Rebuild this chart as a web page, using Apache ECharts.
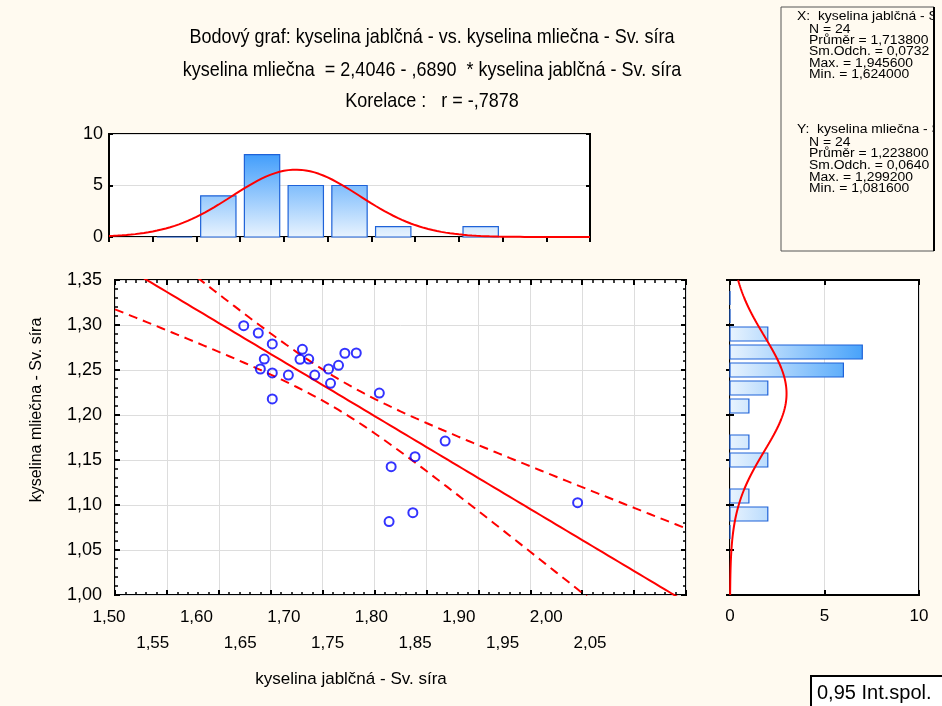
<!DOCTYPE html>
<html><head><meta charset="utf-8">
<script src="https://cdn.jsdelivr.net/npm/echarts@6/dist/echarts.min.js"></script>
<style>html,body{margin:0;padding:0;background:#FFFAF0}#c{width:942px;height:706px}</style>
</head><body><div id="c"></div><script>
// ---- data ----
const xJablcna = [1.624,1.638,1.6515,1.6438,1.640,1.6515,1.6515,1.667,1.6805,1.6782,1.6866,1.6924,1.7057,1.7076,1.7153,1.7214,1.7324,1.7546,1.766,1.764,1.789,1.7869,1.818,1.9456];
const yMliecna = [1.2992,1.2911,1.279,1.2622,1.2511,1.2467,1.2178,1.2444,1.273,1.2619,1.2622,1.2444,1.2511,1.2352,1.2552,1.2686,1.2689,1.2244,1.1426,1.0816,1.1537,1.0915,1.171,1.1026];
const topBinStart = [1.55,1.60,1.65,1.70,1.75,1.80,1.90];
const topCounts   = [0,4,8,5,5,1,1];
const topBinWidth = 0.05;
const rightBinStart = [1.06,1.08,1.10,1.14,1.16,1.20,1.22,1.24,1.26,1.28,1.30,1.32];
const rightCounts   = [0,2,1,2,1,1,2,6,7,2,0,0];
const rightBinWidth = 0.02;
const regIntercept = 2.4046, regSlope = -0.6890, corrR = -0.7878;
const nObs = 24, meanX = 1.7138, sdX = 0.0732, meanY = 1.2238, sdY = 0.0640;
const tCrit = 2.0739; // t(0.975, 22)
const statsX = ['N = 24','Průměr = 1,713800','Sm.Odch. = 0,0732','Max. = 1,945600','Min. = 1,624000'];
const statsY = ['N = 24','Průměr = 1,223800','Sm.Odch. = 0,0640','Max. = 1,299200','Min. = 1,081600'];
const titleLines = ['Bodový graf: kyselina jablčná - vs. kyselina mliečna - Sv. síra',
  'kyselina mliečna  = 2,4046 - ,6890  * kyselina jablčná - Sv. síra',
  'Korelace :   r = -,7878'];
const xName = 'kyselina jablčná - Sv. síra';
const yName = 'kyselina mliečna - Sv. síra';

// ---- derived fit curves ----
const FF = '"Liberation Sans", Arial, sans-serif';
const fmt = v => v.toFixed(2).replace('.', ',');
const sRes = sdY * Math.sqrt((1 - corrR*corrR) * (nObs - 1) / (nObs - 2));
const sxx = sdX * sdX * (nObs - 1);
const regLine = [], ciUp = [], ciLo = [];
for (let i = 0; i <= 110; i++) {
  const x = 1.5 + i * 0.005;
  const yh = regIntercept + regSlope * x;
  const h = tCrit * sRes * Math.sqrt(1/nObs + (x - meanX)*(x - meanX)/sxx);
  regLine.push([x, yh]); ciUp.push([x, yh + h]); ciLo.push([x, yh - h]);
}
const pdf = (v, m, s) => Math.exp(-0.5*((v-m)/s)**2) / (s*Math.sqrt(2*Math.PI));
const topNorm = [], rightNorm = [];
for (let i = 0; i <= 110; i++) { const x = 1.5 + i*0.005; topNorm.push([x, nObs*topBinWidth*pdf(x, meanX, sdX)]); }
for (let i = 0; i <= 140; i++) { const y = 1.0 + i*0.0025; rightNorm.push([nObs*rightBinWidth*pdf(y, meanY, sdY), y]); }

const topGrad = new echarts.graphic.LinearGradient(0, 237, 0, 145, [{offset:0,color:'#E8F3FE'},{offset:1,color:'#2F94FB'}], true);
const rightGrad = new echarts.graphic.LinearGradient(730, 0, 870, 0, [{offset:0,color:'#E8F3FE'},{offset:1,color:'#3F9EFA'}], true);
const barStroke = '#1E62D8';

const chart = echarts.init(document.getElementById('c'), null, {renderer:'canvas'});
const gridStyle = {show:true, backgroundColor:'#fff', borderColor:'#000', borderWidth:2, containLabel:false};
const tickIn = (len) => ({show:true, inside:true, length:len, lineStyle:{color:'#000', width:2}});
const minorIn = {show:true, splitNumber:5, length:3, lineStyle:{color:'#000', width:1.5}};
const split = {show:true, lineStyle:{color:'#DDDDDD', width:1}};
const lbl = (extra) => Object.assign({color:'#000', fontSize:17, fontFamily:FF}, extra);

const option = {
  backgroundColor:'#FFFAF0',
  animation:false,
  grid:[
    Object.assign({left:115, top:280, width:571, height:315}, gridStyle),
    Object.assign({left:109, top:134, width:481, height:103}, gridStyle),
    Object.assign({left:730, top:280, width:189, height:315}, gridStyle),
    {left:109, top:600, width:481, height:1, show:false}
  ],
  xAxis:[
    {gridIndex:0, type:'value', min:1.5, max:2.05, interval:0.05, position:'bottom', axisLine:{show:false}, axisTick:tickIn(5), minorTick:Object.assign({}, minorIn), axisLabel:{show:false}, splitLine:split},
    {gridIndex:0, type:'value', min:1.5, max:2.05, interval:0.05, position:'top', axisLine:{show:false}, axisTick:tickIn(5), minorTick:Object.assign({}, minorIn), axisLabel:{show:false}, splitLine:{show:false}},
    {gridIndex:1, type:'value', min:1.5, max:2.05, interval:0.05, position:'top', axisLine:{show:false}, axisTick:tickIn(5), axisLabel:{show:false}, splitLine:{show:false}},
    {gridIndex:2, type:'value', min:0, max:10, interval:5, position:'bottom', axisLine:{show:false}, axisTick:tickIn(5), axisLabel:lbl({margin:13}), splitLine:split},
    {gridIndex:2, type:'value', min:0, max:10, interval:5, position:'top', axisLine:{show:false}, axisTick:tickIn(5), axisLabel:{show:false}, splitLine:{show:false}},
    {gridIndex:3, type:'value', min:1.5, max:2.05, interval:0.05, position:'bottom', axisLine:{show:false}, axisTick:{show:false}, splitLine:{show:false},
      axisLabel:lbl({margin:8, formatter:v => (Math.round(v*100) % 10 === 0) ? fmt(v) : ''})},
    {gridIndex:3, type:'value', min:1.5, max:2.05, interval:0.05, position:'bottom', offset:26, axisLine:{show:false}, axisTick:{show:false}, splitLine:{show:false},
      axisLabel:lbl({margin:8, formatter:v => (Math.round(v*100) % 10 === 5) ? fmt(v) : ''})}
  ],
  yAxis:[
    {gridIndex:0, type:'value', min:1.0, max:1.35, interval:0.05, position:'left', axisLine:{show:false}, axisTick:tickIn(5), minorTick:Object.assign({}, minorIn), axisLabel:lbl({margin:13, fontSize:18, formatter:fmt}), splitLine:split},
    {gridIndex:0, type:'value', min:1.0, max:1.35, interval:0.05, position:'right', axisLine:{show:false}, axisTick:tickIn(5), minorTick:Object.assign({}, minorIn), axisLabel:{show:false}, splitLine:{show:false}},
    {gridIndex:1, type:'value', min:0, max:10, interval:5, position:'left', axisLine:{show:false}, axisTick:tickIn(4), axisLabel:lbl({margin:6, fontSize:18}), splitLine:split},
    {gridIndex:1, type:'value', min:0, max:10, interval:5, position:'right', axisLine:{show:false}, axisTick:tickIn(4), axisLabel:{show:false}, splitLine:{show:false}},
    {gridIndex:2, type:'value', min:1.0, max:1.35, interval:0.05, position:'left', axisLine:{show:false}, axisTick:tickIn(4), axisLabel:{show:false}, splitLine:{show:false}},
    {gridIndex:2, type:'value', min:1.0, max:1.35, interval:0.05, position:'right', axisLine:{show:false}, axisTick:tickIn(4), axisLabel:{show:false}, splitLine:{show:false}},
    {gridIndex:3, type:'value', show:false, min:0, max:1}
  ],
  series:[
    {type:'line', xAxisIndex:0, yAxisIndex:0, data:ciUp, showSymbol:false, clip:true, lineStyle:{color:'#FF0000', width:2, type:[9,6]}, z:3},
    {type:'line', xAxisIndex:0, yAxisIndex:0, data:ciLo, showSymbol:false, clip:true, lineStyle:{color:'#FF0000', width:2, type:[9,6]}, z:3},
    {type:'line', xAxisIndex:0, yAxisIndex:0, data:regLine, showSymbol:false, clip:true, lineStyle:{color:'#FF0000', width:2}, z:3},
    {type:'scatter', xAxisIndex:0, yAxisIndex:0, data:xJablcna.map((x,i)=>[x, yMliecna[i]]), symbol:'circle', symbolSize:9,
      itemStyle:{color:'rgba(0,0,0,0)', borderColor:'#0000FF', borderWidth:2}, z:5},
    {type:'custom', xAxisIndex:2, yAxisIndex:2, data:topBinStart.map((s,i)=>[s, s+topBinWidth, topCounts[i]]),
      renderItem:(params, api) => {
        const p0 = api.coord([api.value(0), api.value(2)]);
        const p1 = api.coord([api.value(1), 0]);
        const g = 4.2;
        return {type:'rect', shape:{x:p0[0]+g, y:p0[1], width:p1[0]-p0[0]-2*g, height:p1[1]-p0[1]},
          style:{fill:topGrad, stroke:barStroke, lineWidth:1.2}};
      }, z:2},
    {type:'line', xAxisIndex:2, yAxisIndex:2, data:topNorm, showSymbol:false, clip:true, lineStyle:{color:'#FF0000', width:2}, z:4},
    {type:'custom', xAxisIndex:3, yAxisIndex:4, data:rightBinStart.map((s,i)=>[s, s+rightBinWidth, rightCounts[i]]),
      renderItem:(params, api) => {
        const p0 = api.coord([0, api.value(1)]);
        const p1 = api.coord([api.value(2), api.value(0)]);
        const g = 2;
        return {type:'rect', shape:{x:p0[0], y:p0[1]+g, width:p1[0]-p0[0], height:p1[1]-p0[1]-2*g},
          style:{fill:rightGrad, stroke:barStroke, lineWidth:1.2}};
      }, z:2},
    {type:'line', xAxisIndex:3, yAxisIndex:4, data:rightNorm, showSymbol:false, clip:true, lineStyle:{color:'#FF0000', width:2}, z:4}
  ],
  graphic:[]
};

const G = option.graphic;
const txt = (x, y, t, size, extra) => G.push(Object.assign({type:'text', x:x, y:y, z:10,
  style:{text:t, fill:'#000', fontSize:size, fontFamily:FF, align:'left', verticalAlign:'middle'}}, extra || {}));
// titles
[38, 71, 102].forEach((y, i) => G.push({type:'text', x:432, y:y, z:10, scaleY:1.1,
  style:{text:titleLines[i], fill:'#000', fontSize:18, fontFamily:FF, align:'center', verticalAlign:'middle'}}));
// axis names
G.push({type:'text', x:351, y:679, z:10, style:{text:xName, fill:'#000', fontSize:17, fontFamily:FF, align:'center', verticalAlign:'middle'}});
G.push({type:'text', x:37, y:410, rotation:Math.PI/2, z:10, style:{text:yName, fill:'#000', fontSize:16, fontFamily:FF, align:'center', verticalAlign:'middle'}});
// stats box
G.push({type:'rect', z:8, shape:{x:781, y:7, width:153, height:244}, style:{fill:'#FFFAF0', stroke:'#555', lineWidth:1}});
const sx = {scaleX:1.16};
txt(797, 16.5, 'X:  ' + xName, 12, sx);
statsX.forEach((s, i) => txt(809, [29.5, 40.5, 52, 63.5, 75][i], s, 12, sx));
txt(797, 130, 'Y:  ' + yName, 12, sx);
statsY.forEach((s, i) => txt(809, [142.5, 154, 165.5, 177.5, 189][i], s, 12, sx));
G.push({type:'rect', z:12, shape:{x:935, y:0, width:10, height:260}, style:{fill:'#FFFAF0'}});
G.push({type:'line', z:13, shape:{x1:934, y1:7, x2:934, y2:251}, style:{stroke:'#000', lineWidth:2}});
// legend box
G.push({type:'rect', z:8, shape:{x:811, y:676, width:140, height:40}, style:{fill:'#FFFFFF', stroke:'#000', lineWidth:2}});
txt(817, 693, '0,95 Int.spol.', 20);

chart.setOption(option);
</script></body></html>
